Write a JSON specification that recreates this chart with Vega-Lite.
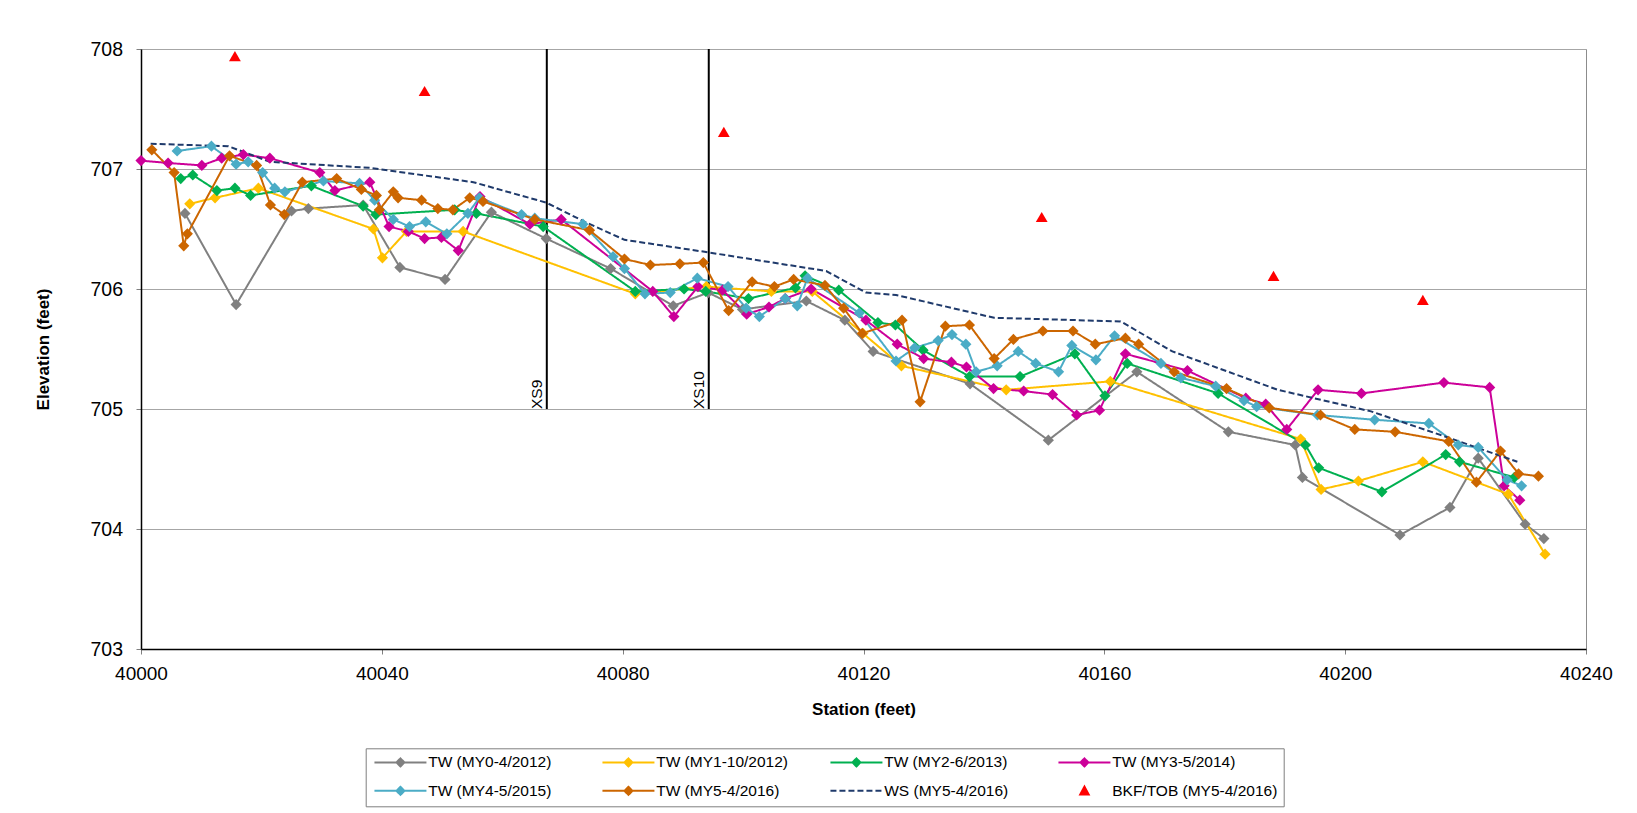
{
"$schema":"https://vega.github.io/schema/vega-lite/v6.json",
"width":1445,"height":600,
"autosize":"none",
"padding":{"left":141,"top":49,"right":51,"bottom":164},
"background":"white",
"config":{"view":{"stroke":"#8c8c8c","strokeWidth":1},"font":"Liberation Sans"},
"datasets":{
"xs":[{"station":40067.4,"lo":705,"hi":708,"label":"XS9"},{"station":40094.3,"lo":705,"hi":708,"label":"XS10"}],
"pts":[
{"series":"TW (MY0-4/2012)","station":40007.3,"elev":706.63},
{"series":"TW (MY0-4/2012)","station":40015.8,"elev":705.87},
{"series":"TW (MY0-4/2012)","station":40025.0,"elev":706.65},
{"series":"TW (MY0-4/2012)","station":40027.8,"elev":706.67},
{"series":"TW (MY0-4/2012)","station":40036.9,"elev":706.70},
{"series":"TW (MY0-4/2012)","station":40043.0,"elev":706.18},
{"series":"TW (MY0-4/2012)","station":40050.5,"elev":706.08},
{"series":"TW (MY0-4/2012)","station":40058.2,"elev":706.64},
{"series":"TW (MY0-4/2012)","station":40067.3,"elev":706.42},
{"series":"TW (MY0-4/2012)","station":40078.0,"elev":706.17},
{"series":"TW (MY0-4/2012)","station":40088.4,"elev":705.86},
{"series":"TW (MY0-4/2012)","station":40094.2,"elev":705.97},
{"series":"TW (MY0-4/2012)","station":40099.9,"elev":705.83},
{"series":"TW (MY0-4/2012)","station":40110.5,"elev":705.90},
{"series":"TW (MY0-4/2012)","station":40116.9,"elev":705.74},
{"series":"TW (MY0-4/2012)","station":40121.6,"elev":705.48},
{"series":"TW (MY0-4/2012)","station":40137.7,"elev":705.21},
{"series":"TW (MY0-4/2012)","station":40150.7,"elev":704.74},
{"series":"TW (MY0-4/2012)","station":40165.4,"elev":705.31},
{"series":"TW (MY0-4/2012)","station":40180.6,"elev":704.81},
{"series":"TW (MY0-4/2012)","station":40191.7,"elev":704.70},
{"series":"TW (MY0-4/2012)","station":40192.9,"elev":704.43},
{"series":"TW (MY0-4/2012)","station":40209.1,"elev":703.95},
{"series":"TW (MY0-4/2012)","station":40217.4,"elev":704.18},
{"series":"TW (MY0-4/2012)","station":40222.1,"elev":704.59},
{"series":"TW (MY0-4/2012)","station":40229.9,"elev":704.04},
{"series":"TW (MY0-4/2012)","station":40233.0,"elev":703.92},
{"series":"TW (MY1-10/2012)","station":40008.1,"elev":706.71},
{"series":"TW (MY1-10/2012)","station":40012.3,"elev":706.76},
{"series":"TW (MY1-10/2012)","station":40019.5,"elev":706.84},
{"series":"TW (MY1-10/2012)","station":40038.6,"elev":706.50},
{"series":"TW (MY1-10/2012)","station":40040.1,"elev":706.26},
{"series":"TW (MY1-10/2012)","station":40044.1,"elev":706.48},
{"series":"TW (MY1-10/2012)","station":40053.5,"elev":706.48},
{"series":"TW (MY1-10/2012)","station":40082.1,"elev":705.96},
{"series":"TW (MY1-10/2012)","station":40093.9,"elev":706.02},
{"series":"TW (MY1-10/2012)","station":40104.7,"elev":705.98},
{"series":"TW (MY1-10/2012)","station":40111.5,"elev":705.98},
{"series":"TW (MY1-10/2012)","station":40119.9,"elev":705.63},
{"series":"TW (MY1-10/2012)","station":40126.3,"elev":705.36},
{"series":"TW (MY1-10/2012)","station":40143.7,"elev":705.16},
{"series":"TW (MY1-10/2012)","station":40161.0,"elev":705.23},
{"series":"TW (MY1-10/2012)","station":40192.6,"elev":704.75},
{"series":"TW (MY1-10/2012)","station":40196.0,"elev":704.33},
{"series":"TW (MY1-10/2012)","station":40202.2,"elev":704.40},
{"series":"TW (MY1-10/2012)","station":40212.9,"elev":704.56},
{"series":"TW (MY1-10/2012)","station":40227.1,"elev":704.29},
{"series":"TW (MY1-10/2012)","station":40233.2,"elev":703.79},
{"series":"TW (MY2-6/2013)","station":40006.6,"elev":706.92},
{"series":"TW (MY2-6/2013)","station":40008.6,"elev":706.95},
{"series":"TW (MY2-6/2013)","station":40012.6,"elev":706.82},
{"series":"TW (MY2-6/2013)","station":40015.6,"elev":706.84},
{"series":"TW (MY2-6/2013)","station":40018.2,"elev":706.78},
{"series":"TW (MY2-6/2013)","station":40028.3,"elev":706.86},
{"series":"TW (MY2-6/2013)","station":40036.9,"elev":706.69},
{"series":"TW (MY2-6/2013)","station":40039.0,"elev":706.62},
{"series":"TW (MY2-6/2013)","station":40052.1,"elev":706.66},
{"series":"TW (MY2-6/2013)","station":40055.7,"elev":706.63},
{"series":"TW (MY2-6/2013)","station":40066.8,"elev":706.52},
{"series":"TW (MY2-6/2013)","station":40082.1,"elev":705.98},
{"series":"TW (MY2-6/2013)","station":40090.2,"elev":706.00},
{"series":"TW (MY2-6/2013)","station":40093.8,"elev":705.98},
{"series":"TW (MY2-6/2013)","station":40100.9,"elev":705.92},
{"series":"TW (MY2-6/2013)","station":40108.7,"elev":706.01},
{"series":"TW (MY2-6/2013)","station":40110.3,"elev":706.11},
{"series":"TW (MY2-6/2013)","station":40115.9,"elev":705.99},
{"series":"TW (MY2-6/2013)","station":40122.4,"elev":705.72},
{"series":"TW (MY2-6/2013)","station":40125.3,"elev":705.70},
{"series":"TW (MY2-6/2013)","station":40129.9,"elev":705.49},
{"series":"TW (MY2-6/2013)","station":40137.6,"elev":705.27},
{"series":"TW (MY2-6/2013)","station":40146.0,"elev":705.27},
{"series":"TW (MY2-6/2013)","station":40155.1,"elev":705.46},
{"series":"TW (MY2-6/2013)","station":40160.1,"elev":705.11},
{"series":"TW (MY2-6/2013)","station":40163.8,"elev":705.38},
{"series":"TW (MY2-6/2013)","station":40178.9,"elev":705.13},
{"series":"TW (MY2-6/2013)","station":40193.4,"elev":704.70},
{"series":"TW (MY2-6/2013)","station":40195.6,"elev":704.51},
{"series":"TW (MY2-6/2013)","station":40206.1,"elev":704.31},
{"series":"TW (MY2-6/2013)","station":40216.7,"elev":704.62},
{"series":"TW (MY2-6/2013)","station":40219.0,"elev":704.56},
{"series":"TW (MY2-6/2013)","station":40228.1,"elev":704.43},
{"series":"TW (MY3-5/2014)","station":40000.0,"elev":707.07},
{"series":"TW (MY3-5/2014)","station":40004.5,"elev":707.05},
{"series":"TW (MY3-5/2014)","station":40010.1,"elev":707.03},
{"series":"TW (MY3-5/2014)","station":40013.4,"elev":707.09},
{"series":"TW (MY3-5/2014)","station":40017.0,"elev":707.12},
{"series":"TW (MY3-5/2014)","station":40021.4,"elev":707.09},
{"series":"TW (MY3-5/2014)","station":40029.7,"elev":706.97},
{"series":"TW (MY3-5/2014)","station":40032.2,"elev":706.82},
{"series":"TW (MY3-5/2014)","station":40038.0,"elev":706.89},
{"series":"TW (MY3-5/2014)","station":40041.2,"elev":706.52},
{"series":"TW (MY3-5/2014)","station":40044.4,"elev":706.48},
{"series":"TW (MY3-5/2014)","station":40047.1,"elev":706.42},
{"series":"TW (MY3-5/2014)","station":40049.9,"elev":706.43},
{"series":"TW (MY3-5/2014)","station":40052.7,"elev":706.32},
{"series":"TW (MY3-5/2014)","station":40056.3,"elev":706.77},
{"series":"TW (MY3-5/2014)","station":40064.6,"elev":706.54},
{"series":"TW (MY3-5/2014)","station":40069.8,"elev":706.58},
{"series":"TW (MY3-5/2014)","station":40085.0,"elev":705.98},
{"series":"TW (MY3-5/2014)","station":40088.5,"elev":705.77},
{"series":"TW (MY3-5/2014)","station":40092.5,"elev":706.02},
{"series":"TW (MY3-5/2014)","station":40096.6,"elev":705.99},
{"series":"TW (MY3-5/2014)","station":40100.6,"elev":705.79},
{"series":"TW (MY3-5/2014)","station":40104.3,"elev":705.85},
{"series":"TW (MY3-5/2014)","station":40107.0,"elev":705.92},
{"series":"TW (MY3-5/2014)","station":40111.3,"elev":706.00},
{"series":"TW (MY3-5/2014)","station":40120.4,"elev":705.74},
{"series":"TW (MY3-5/2014)","station":40125.6,"elev":705.54},
{"series":"TW (MY3-5/2014)","station":40130.0,"elev":705.42},
{"series":"TW (MY3-5/2014)","station":40134.6,"elev":705.39},
{"series":"TW (MY3-5/2014)","station":40137.1,"elev":705.35},
{"series":"TW (MY3-5/2014)","station":40141.6,"elev":705.17},
{"series":"TW (MY3-5/2014)","station":40146.6,"elev":705.15},
{"series":"TW (MY3-5/2014)","station":40151.4,"elev":705.12},
{"series":"TW (MY3-5/2014)","station":40155.4,"elev":704.95},
{"series":"TW (MY3-5/2014)","station":40159.2,"elev":704.99},
{"series":"TW (MY3-5/2014)","station":40163.5,"elev":705.46},
{"series":"TW (MY3-5/2014)","station":40173.8,"elev":705.32},
{"series":"TW (MY3-5/2014)","station":40183.5,"elev":705.09},
{"series":"TW (MY3-5/2014)","station":40186.8,"elev":705.04},
{"series":"TW (MY3-5/2014)","station":40190.3,"elev":704.83},
{"series":"TW (MY3-5/2014)","station":40195.5,"elev":705.16},
{"series":"TW (MY3-5/2014)","station":40202.7,"elev":705.13},
{"series":"TW (MY3-5/2014)","station":40216.4,"elev":705.22},
{"series":"TW (MY3-5/2014)","station":40224.0,"elev":705.18},
{"series":"TW (MY3-5/2014)","station":40226.4,"elev":704.36},
{"series":"TW (MY3-5/2014)","station":40229.0,"elev":704.24},
{"series":"TW (MY4-5/2015)","station":40006.0,"elev":707.15},
{"series":"TW (MY4-5/2015)","station":40011.7,"elev":707.19},
{"series":"TW (MY4-5/2015)","station":40015.8,"elev":707.04},
{"series":"TW (MY4-5/2015)","station":40017.8,"elev":707.06},
{"series":"TW (MY4-5/2015)","station":40020.2,"elev":706.97},
{"series":"TW (MY4-5/2015)","station":40022.2,"elev":706.84},
{"series":"TW (MY4-5/2015)","station":40023.9,"elev":706.81},
{"series":"TW (MY4-5/2015)","station":40030.3,"elev":706.90},
{"series":"TW (MY4-5/2015)","station":40036.3,"elev":706.88},
{"series":"TW (MY4-5/2015)","station":40038.8,"elev":706.74},
{"series":"TW (MY4-5/2015)","station":40041.9,"elev":706.58},
{"series":"TW (MY4-5/2015)","station":40044.6,"elev":706.52},
{"series":"TW (MY4-5/2015)","station":40047.3,"elev":706.56},
{"series":"TW (MY4-5/2015)","station":40050.8,"elev":706.46},
{"series":"TW (MY4-5/2015)","station":40054.3,"elev":706.63},
{"series":"TW (MY4-5/2015)","station":40056.2,"elev":706.76},
{"series":"TW (MY4-5/2015)","station":40063.2,"elev":706.62},
{"series":"TW (MY4-5/2015)","station":40065.4,"elev":706.59},
{"series":"TW (MY4-5/2015)","station":40073.4,"elev":706.54},
{"series":"TW (MY4-5/2015)","station":40078.4,"elev":706.27},
{"series":"TW (MY4-5/2015)","station":40080.3,"elev":706.17},
{"series":"TW (MY4-5/2015)","station":40083.7,"elev":705.96},
{"series":"TW (MY4-5/2015)","station":40087.9,"elev":705.97},
{"series":"TW (MY4-5/2015)","station":40092.4,"elev":706.09},
{"series":"TW (MY4-5/2015)","station":40097.5,"elev":706.02},
{"series":"TW (MY4-5/2015)","station":40100.5,"elev":705.84},
{"series":"TW (MY4-5/2015)","station":40102.7,"elev":705.77},
{"series":"TW (MY4-5/2015)","station":40107.0,"elev":705.92},
{"series":"TW (MY4-5/2015)","station":40109.0,"elev":705.86},
{"series":"TW (MY4-5/2015)","station":40110.7,"elev":706.09},
{"series":"TW (MY4-5/2015)","station":40119.3,"elev":705.80},
{"series":"TW (MY4-5/2015)","station":40125.4,"elev":705.40},
{"series":"TW (MY4-5/2015)","station":40128.5,"elev":705.51},
{"series":"TW (MY4-5/2015)","station":40132.4,"elev":705.57},
{"series":"TW (MY4-5/2015)","station":40134.7,"elev":705.62},
{"series":"TW (MY4-5/2015)","station":40137.0,"elev":705.54},
{"series":"TW (MY4-5/2015)","station":40138.7,"elev":705.31},
{"series":"TW (MY4-5/2015)","station":40142.2,"elev":705.36},
{"series":"TW (MY4-5/2015)","station":40145.7,"elev":705.48},
{"series":"TW (MY4-5/2015)","station":40148.6,"elev":705.38},
{"series":"TW (MY4-5/2015)","station":40152.4,"elev":705.31},
{"series":"TW (MY4-5/2015)","station":40154.6,"elev":705.53},
{"series":"TW (MY4-5/2015)","station":40158.6,"elev":705.41},
{"series":"TW (MY4-5/2015)","station":40161.7,"elev":705.61},
{"series":"TW (MY4-5/2015)","station":40169.4,"elev":705.38},
{"series":"TW (MY4-5/2015)","station":40172.7,"elev":705.26},
{"series":"TW (MY4-5/2015)","station":40178.5,"elev":705.19},
{"series":"TW (MY4-5/2015)","station":40183.2,"elev":705.07},
{"series":"TW (MY4-5/2015)","station":40185.3,"elev":705.02},
{"series":"TW (MY4-5/2015)","station":40195.4,"elev":704.95},
{"series":"TW (MY4-5/2015)","station":40204.9,"elev":704.91},
{"series":"TW (MY4-5/2015)","station":40213.9,"elev":704.88},
{"series":"TW (MY4-5/2015)","station":40218.8,"elev":704.70},
{"series":"TW (MY4-5/2015)","station":40222.1,"elev":704.68},
{"series":"TW (MY4-5/2015)","station":40226.9,"elev":704.41},
{"series":"TW (MY4-5/2015)","station":40229.3,"elev":704.36},
{"series":"TW (MY5-4/2016)","station":40001.8,"elev":707.16},
{"series":"TW (MY5-4/2016)","station":40005.5,"elev":706.97},
{"series":"TW (MY5-4/2016)","station":40007.1,"elev":706.36},
{"series":"TW (MY5-4/2016)","station":40007.7,"elev":706.46},
{"series":"TW (MY5-4/2016)","station":40014.7,"elev":707.11},
{"series":"TW (MY5-4/2016)","station":40019.2,"elev":707.03},
{"series":"TW (MY5-4/2016)","station":40021.5,"elev":706.70},
{"series":"TW (MY5-4/2016)","station":40023.8,"elev":706.62},
{"series":"TW (MY5-4/2016)","station":40026.8,"elev":706.89},
{"series":"TW (MY5-4/2016)","station":40032.5,"elev":706.92},
{"series":"TW (MY5-4/2016)","station":40036.6,"elev":706.83},
{"series":"TW (MY5-4/2016)","station":40039.1,"elev":706.78},
{"series":"TW (MY5-4/2016)","station":40039.6,"elev":706.66},
{"series":"TW (MY5-4/2016)","station":40041.9,"elev":706.81},
{"series":"TW (MY5-4/2016)","station":40042.7,"elev":706.76},
{"series":"TW (MY5-4/2016)","station":40046.6,"elev":706.74},
{"series":"TW (MY5-4/2016)","station":40049.3,"elev":706.67},
{"series":"TW (MY5-4/2016)","station":40051.8,"elev":706.66},
{"series":"TW (MY5-4/2016)","station":40054.6,"elev":706.76},
{"series":"TW (MY5-4/2016)","station":40056.8,"elev":706.73},
{"series":"TW (MY5-4/2016)","station":40065.4,"elev":706.58},
{"series":"TW (MY5-4/2016)","station":40074.5,"elev":706.49},
{"series":"TW (MY5-4/2016)","station":40080.3,"elev":706.25},
{"series":"TW (MY5-4/2016)","station":40084.6,"elev":706.20},
{"series":"TW (MY5-4/2016)","station":40089.5,"elev":706.21},
{"series":"TW (MY5-4/2016)","station":40093.4,"elev":706.22},
{"series":"TW (MY5-4/2016)","station":40097.6,"elev":705.82},
{"series":"TW (MY5-4/2016)","station":40101.5,"elev":706.06},
{"series":"TW (MY5-4/2016)","station":40105.2,"elev":706.02},
{"series":"TW (MY5-4/2016)","station":40108.4,"elev":706.08},
{"series":"TW (MY5-4/2016)","station":40113.6,"elev":706.03},
{"series":"TW (MY5-4/2016)","station":40116.7,"elev":705.84},
{"series":"TW (MY5-4/2016)","station":40119.8,"elev":705.63},
{"series":"TW (MY5-4/2016)","station":40126.4,"elev":705.74},
{"series":"TW (MY5-4/2016)","station":40129.4,"elev":705.06},
{"series":"TW (MY5-4/2016)","station":40133.6,"elev":705.69},
{"series":"TW (MY5-4/2016)","station":40137.6,"elev":705.70},
{"series":"TW (MY5-4/2016)","station":40141.7,"elev":705.42},
{"series":"TW (MY5-4/2016)","station":40144.9,"elev":705.58},
{"series":"TW (MY5-4/2016)","station":40149.8,"elev":705.65},
{"series":"TW (MY5-4/2016)","station":40154.8,"elev":705.65},
{"series":"TW (MY5-4/2016)","station":40158.5,"elev":705.54},
{"series":"TW (MY5-4/2016)","station":40163.5,"elev":705.59},
{"series":"TW (MY5-4/2016)","station":40165.7,"elev":705.54},
{"series":"TW (MY5-4/2016)","station":40171.6,"elev":705.31},
{"series":"TW (MY5-4/2016)","station":40180.3,"elev":705.17},
{"series":"TW (MY5-4/2016)","station":40187.4,"elev":705.01},
{"series":"TW (MY5-4/2016)","station":40195.9,"elev":704.95},
{"series":"TW (MY5-4/2016)","station":40201.6,"elev":704.83},
{"series":"TW (MY5-4/2016)","station":40208.3,"elev":704.81},
{"series":"TW (MY5-4/2016)","station":40217.2,"elev":704.73},
{"series":"TW (MY5-4/2016)","station":40221.8,"elev":704.39},
{"series":"TW (MY5-4/2016)","station":40225.8,"elev":704.65},
{"series":"TW (MY5-4/2016)","station":40228.8,"elev":704.46},
{"series":"TW (MY5-4/2016)","station":40232.1,"elev":704.44},
{"series":"WS (MY5-4/2016)","station":40001.6,"elev":707.21},
{"series":"WS (MY5-4/2016)","station":40014.5,"elev":707.19},
{"series":"WS (MY5-4/2016)","station":40021.4,"elev":707.06},
{"series":"WS (MY5-4/2016)","station":40038.0,"elev":707.01},
{"series":"WS (MY5-4/2016)","station":40055.2,"elev":706.89},
{"series":"WS (MY5-4/2016)","station":40067.3,"elev":706.72},
{"series":"WS (MY5-4/2016)","station":40073.7,"elev":706.56},
{"series":"WS (MY5-4/2016)","station":40080.3,"elev":706.41},
{"series":"WS (MY5-4/2016)","station":40093.6,"elev":706.31},
{"series":"WS (MY5-4/2016)","station":40113.8,"elev":706.15},
{"series":"WS (MY5-4/2016)","station":40120.4,"elev":705.97},
{"series":"WS (MY5-4/2016)","station":40125.4,"elev":705.95},
{"series":"WS (MY5-4/2016)","station":40141.7,"elev":705.76},
{"series":"WS (MY5-4/2016)","station":40162.7,"elev":705.73},
{"series":"WS (MY5-4/2016)","station":40171.3,"elev":705.48},
{"series":"WS (MY5-4/2016)","station":40188.8,"elev":705.16},
{"series":"WS (MY5-4/2016)","station":40204.3,"elev":704.98},
{"series":"WS (MY5-4/2016)","station":40217.8,"elev":704.75},
{"series":"WS (MY5-4/2016)","station":40228.6,"elev":704.56},
{"series":"BKF/TOB (MY5-4/2016)","station":40015.6,"elev":707.94},
{"series":"BKF/TOB (MY5-4/2016)","station":40047.1,"elev":707.65},
{"series":"BKF/TOB (MY5-4/2016)","station":40096.8,"elev":707.31},
{"series":"BKF/TOB (MY5-4/2016)","station":40149.6,"elev":706.60},
{"series":"BKF/TOB (MY5-4/2016)","station":40188.1,"elev":706.11},
{"series":"BKF/TOB (MY5-4/2016)","station":40212.9,"elev":705.91}
]},
"layer":[
{"data":{"name":"xs"},
 "mark":{"type":"rule","color":"black","strokeWidth":2},
 "encoding":{
  "x":{"field":"station","type":"quantitative","scale":{"domain":[40000,40240],"nice":false,"zero":false},
   "axis":{"values":[40000,40040,40080,40120,40160,40200,40240],"format":"d","title":"Station (feet)","titleFont":"Liberation Sans","titleFontSize":17,"titleFontWeight":"bold","titleColor":"black","titlePadding":18,"labelFont":"Liberation Sans","labelFontSize":19,"labelColor":"black","labelPadding":10,"labelFlush":false,"labelOverlap":false,"tickSize":5,"tickColor":"#808080","domainColor":"black","domainWidth":1.5,"grid":false}},
  "y":{"field":"lo","type":"quantitative","scale":{"domain":[703,708],"nice":false,"zero":false},
   "axis":{"values":[703,704,705,706,707,708],"format":"d","title":"Elevation (feet)","titleFont":"Liberation Sans","titleFontSize":17,"titleFontWeight":"bold","titleColor":"black","titlePadding":37,"labelFont":"Liberation Sans","labelFontSize":19.5,"labelColor":"black","labelPadding":13.5,"tickSize":5,"tickColor":"#808080","domainColor":"black","domainWidth":1.5,"grid":true,"gridColor":"#a6a6a6","gridWidth":1}},
  "y2":{"field":"hi"}}},
{"data":{"name":"xs"},
 "mark":{"type":"text","angle":270,"align":"left","baseline":"alphabetic","dy":-5,"fontSize":15.5,"font":"Liberation Sans","color":"black"},
 "encoding":{
  "x":{"field":"station","type":"quantitative","scale":{"domain":[40000,40240],"nice":false,"zero":false},
   "axis":{"values":[40000,40040,40080,40120,40160,40200,40240],"format":"d","title":"Station (feet)","titleFont":"Liberation Sans","titleFontSize":17,"titleFontWeight":"bold","titleColor":"black","titlePadding":18,"labelFont":"Liberation Sans","labelFontSize":19,"labelColor":"black","labelPadding":10,"labelFlush":false,"labelOverlap":false,"tickSize":5,"tickColor":"#808080","domainColor":"black","domainWidth":1.5,"grid":false}},
  "y":{"field":"lo","type":"quantitative","scale":{"domain":[703,708],"nice":false,"zero":false},
   "axis":{"values":[703,704,705,706,707,708],"format":"d","title":"Elevation (feet)","titleFont":"Liberation Sans","titleFontSize":17,"titleFontWeight":"bold","titleColor":"black","titlePadding":37,"labelFont":"Liberation Sans","labelFontSize":19.5,"labelColor":"black","labelPadding":13.5,"tickSize":5,"tickColor":"#808080","domainColor":"black","domainWidth":1.5,"grid":true,"gridColor":"#a6a6a6","gridWidth":1}},
  "text":{"field":"label"}}},
{"data":{"name":"pts"},
 "transform":[{"filter":"datum.series !== 'BKF/TOB (MY5-4/2016)'"}],
 "mark":{"type":"line","strokeWidth":2},
 "encoding":{
  "x":{"field":"station","type":"quantitative","scale":{"domain":[40000,40240],"nice":false,"zero":false},
   "axis":{"values":[40000,40040,40080,40120,40160,40200,40240],"format":"d","title":"Station (feet)","titleFont":"Liberation Sans","titleFontSize":17,"titleFontWeight":"bold","titleColor":"black","titlePadding":18,"labelFont":"Liberation Sans","labelFontSize":19,"labelColor":"black","labelPadding":10,"labelFlush":false,"labelOverlap":false,"tickSize":5,"tickColor":"#808080","domainColor":"black","domainWidth":1.5,"grid":false}},
  "y":{"field":"elev","type":"quantitative","scale":{"domain":[703,708],"nice":false,"zero":false},
   "axis":{"values":[703,704,705,706,707,708],"format":"d","title":"Elevation (feet)","titleFont":"Liberation Sans","titleFontSize":17,"titleFontWeight":"bold","titleColor":"black","titlePadding":37,"labelFont":"Liberation Sans","labelFontSize":19.5,"labelColor":"black","labelPadding":13.5,"tickSize":5,"tickColor":"#808080","domainColor":"black","domainWidth":1.5,"grid":true,"gridColor":"#a6a6a6","gridWidth":1}},
  "color":{"field":"series","type":"nominal",
   "scale":{"domain":["TW (MY0-4/2012)","TW (MY1-10/2012)","TW (MY2-6/2013)","TW (MY3-5/2014)","TW (MY4-5/2015)","TW (MY5-4/2016)","WS (MY5-4/2016)","BKF/TOB (MY5-4/2016)"],"range":["#808080","#FFC000","#00B050","#CC0099","#4BACC6","#CC6600","#1F3A6B","#FF0000"]},
   "legend":{"title":null,"orient":"none","legendX":224.7,"legendY":699.3,"columns":4,"direction":"horizontal","gridAlign":"all","columnPadding":4,"rowPadding":10.8,"padding":6,"strokeColor":"#7f7f7f","fillColor":"white","labelFont":"Liberation Sans","labelFontSize":15.5,"labelColor":"black","labelLimit":300,"symbolSize":100,"symbolStrokeWidth":2,"symbolOffset":21,"labelOffset":20,
    "encode":{"symbols":{"update":{
     "shape":{"signal":"datum.value === 'WS (MY5-4/2016)' ? 'M-5.2,0H-4M-3.4,0H-2.2M-1.6,0H-0.4M0.2,0H1.4M2,0H3.2M3.8,0H5' : (datum.value === 'BKF/TOB (MY5-4/2016)' ? 'M0,-0.85L0.85,0.75L-0.85,0.75Z' : 'M-5.2,0H5.2M0,-0.8L0.8,0L0,0.8L-0.8,0Z')"},
     "fill":{"signal":"datum.value === 'WS (MY5-4/2016)' ? 'transparent' : scale('color', datum.value)"},
     "stroke":{"signal":"datum.value === 'BKF/TOB (MY5-4/2016)' ? 'transparent' : scale('color', datum.value)"},
     "strokeWidth":{"value":2},
     "strokeDash":{"value":[1,0]},
     "opacity":{"value":1}}}}}},
  "strokeDash":{"field":"series","type":"nominal","scale":{"domain":["TW (MY0-4/2012)","TW (MY1-10/2012)","TW (MY2-6/2013)","TW (MY3-5/2014)","TW (MY4-5/2015)","TW (MY5-4/2016)","WS (MY5-4/2016)"],"range":[[1,0],[1,0],[1,0],[1,0],[1,0],[1,0],[6,3]]},"legend":null}}},
{"data":{"name":"pts"},
 "transform":[{"filter":"indexof(datum.series, 'TW') === 0"}],
 "mark":{"type":"point","shape":"diamond","filled":true,"size":125,"opacity":1,"strokeWidth":0},
 "encoding":{
  "x":{"field":"station","type":"quantitative","scale":{"domain":[40000,40240],"nice":false,"zero":false},
   "axis":{"values":[40000,40040,40080,40120,40160,40200,40240],"format":"d","title":"Station (feet)","titleFont":"Liberation Sans","titleFontSize":17,"titleFontWeight":"bold","titleColor":"black","titlePadding":18,"labelFont":"Liberation Sans","labelFontSize":19,"labelColor":"black","labelPadding":10,"labelFlush":false,"labelOverlap":false,"tickSize":5,"tickColor":"#808080","domainColor":"black","domainWidth":1.5,"grid":false}},
  "y":{"field":"elev","type":"quantitative","scale":{"domain":[703,708],"nice":false,"zero":false},
   "axis":{"values":[703,704,705,706,707,708],"format":"d","title":"Elevation (feet)","titleFont":"Liberation Sans","titleFontSize":17,"titleFontWeight":"bold","titleColor":"black","titlePadding":37,"labelFont":"Liberation Sans","labelFontSize":19.5,"labelColor":"black","labelPadding":13.5,"tickSize":5,"tickColor":"#808080","domainColor":"black","domainWidth":1.5,"grid":true,"gridColor":"#a6a6a6","gridWidth":1}},
  "color":{"field":"series","type":"nominal","scale":{"domain":["TW (MY0-4/2012)","TW (MY1-10/2012)","TW (MY2-6/2013)","TW (MY3-5/2014)","TW (MY4-5/2015)","TW (MY5-4/2016)","WS (MY5-4/2016)","BKF/TOB (MY5-4/2016)"],"range":["#808080","#FFC000","#00B050","#CC0099","#4BACC6","#CC6600","#1F3A6B","#FF0000"]},"legend":null}}},
{"data":{"name":"pts"},
 "transform":[{"filter":"datum.series === 'BKF/TOB (MY5-4/2016)'"}],
 "mark":{"type":"point","shape":"triangle-up","filled":true,"size":140,"opacity":1,"strokeWidth":0},
 "encoding":{
  "x":{"field":"station","type":"quantitative","scale":{"domain":[40000,40240],"nice":false,"zero":false},
   "axis":{"values":[40000,40040,40080,40120,40160,40200,40240],"format":"d","title":"Station (feet)","titleFont":"Liberation Sans","titleFontSize":17,"titleFontWeight":"bold","titleColor":"black","titlePadding":18,"labelFont":"Liberation Sans","labelFontSize":19,"labelColor":"black","labelPadding":10,"labelFlush":false,"labelOverlap":false,"tickSize":5,"tickColor":"#808080","domainColor":"black","domainWidth":1.5,"grid":false}},
  "y":{"field":"elev","type":"quantitative","scale":{"domain":[703,708],"nice":false,"zero":false},
   "axis":{"values":[703,704,705,706,707,708],"format":"d","title":"Elevation (feet)","titleFont":"Liberation Sans","titleFontSize":17,"titleFontWeight":"bold","titleColor":"black","titlePadding":37,"labelFont":"Liberation Sans","labelFontSize":19.5,"labelColor":"black","labelPadding":13.5,"tickSize":5,"tickColor":"#808080","domainColor":"black","domainWidth":1.5,"grid":true,"gridColor":"#a6a6a6","gridWidth":1}},
  "color":{"field":"series","type":"nominal","scale":{"domain":["TW (MY0-4/2012)","TW (MY1-10/2012)","TW (MY2-6/2013)","TW (MY3-5/2014)","TW (MY4-5/2015)","TW (MY5-4/2016)","WS (MY5-4/2016)","BKF/TOB (MY5-4/2016)"],"range":["#808080","#FFC000","#00B050","#CC0099","#4BACC6","#CC6600","#1F3A6B","#FF0000"]},"legend":null}}}
]
}
